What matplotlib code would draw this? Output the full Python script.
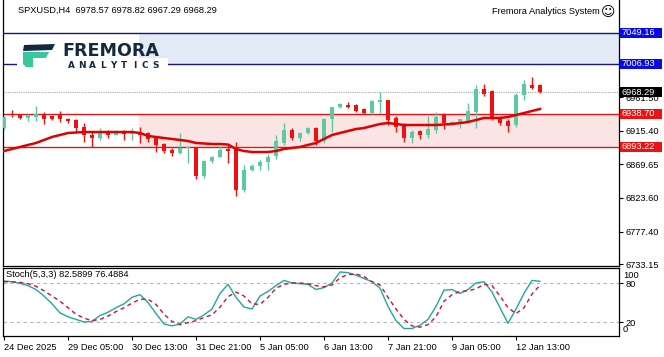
import matplotlib
matplotlib.use("Agg")
from matplotlib import pyplot as plt
from matplotlib.patches import Polygon, Rectangle
from matplotlib.transforms import IdentityTransform, blended_transform_factory

W, H = 664, 357
FONT = "Liberation Sans"
FS = 6.7

TITLE = "SPXUSD,H4  6978.57 6978.82 6967.29 6968.29"
STOCH_TITLE = "Stoch(5,3,3) 82.5899 76.4884"

opens = [6919, 6938.5, 6938, 6933, 6934, 6939, 6935, 6938, 6932, 6930,
         6920, 6909.6, 6905, 6915, 6910, 6914, 6911, 6914, 6912, 6905,
         6897, 6889, 6885, 6892, 6891.5, 6853, 6874, 6880, 6890, 6891.5,
         6834, 6862, 6867, 6873, 6881, 6899, 6916.5, 6905, 6912, 6919,
         6901, 6931, 6948, 6951, 6950, 6945, 6940, 6955, 6957, 6933,
         6923, 6905, 6915, 6910, 6916, 6938, 6925, 6926, 6929, 6941,
         6973, 6970, 6933, 6929, 6923, 6964, 6978.6, 6978.57]
highs = [6936, 6944, 6939, 6938, 6949, 6941, 6936, 6942, 6933, 6931,
         6926, 6913.6, 6919, 6917, 6917, 6916, 6919.5, 6920, 6914, 6907,
         6899, 6892, 6912, 6894, 6893, 6876, 6881, 6894, 6897, 6900,
         6868, 6870, 6875, 6883, 6910, 6926, 6919, 6914, 6921, 6921,
         6933, 6948, 6954, 6955, 6952, 6947, 6958, 6968, 6958, 6935,
         6926, 6916, 6917, 6935, 6941, 6940, 6929, 6932, 6954, 6978,
         6980, 6971, 6935, 6932, 6967, 6985, 6989, 6978.82]
lows = [6917, 6934, 6932, 6929, 6929, 6924, 6930, 6927, 6926, 6914,
        6900, 6893, 6903, 6906, 6909, 6903, 6903, 6899, 6900, 6886,
        6885, 6881, 6884, 6872, 6849, 6851, 6872, 6880, 6871, 6826,
        6832, 6860, 6862, 6862, 6877, 6896, 6903, 6902, 6911, 6896,
        6898, 6914, 6946, 6947, 6941, 6938, 6938, 6940, 6923, 6914,
        6900, 6899, 6904, 6906, 6912, 6918, 6923, 6919, 6927, 6919,
        6963, 6930, 6923, 6914, 6921, 6957, 6973, 6967.29]
closes = [6934, 6937, 6932.7, 6936.5, 6938.6, 6932, 6931, 6931, 6928.5, 6919,
          6909.6, 6905.5, 6915, 6909.6, 6913, 6911.5, 6914, 6909, 6904, 6896,
          6888, 6885, 6891.5, 6893, 6853, 6874, 6879, 6889, 6888, 6834,
          6862, 6867, 6873, 6880, 6901, 6917, 6905, 6912, 6919, 6901,
          6931, 6948, 6952, 6948, 6943, 6940, 6956, 6957, 6930, 6921,
          6905, 6914, 6910, 6918, 6934, 6926, 6928, 6931, 6943, 6973,
          6966, 6933, 6926, 6922, 6964, 6980, 6974, 6968.29]
ma_values = [6887.7, 6890.5, 6893.2, 6896.0, 6898.7, 6902.8, 6906.9, 6909.6, 6912.4, 6913.0,
             6913.7, 6913.7, 6913.7, 6913.7, 6913.7, 6913.7, 6913.7, 6912.4, 6908.3, 6906.9,
             6905.5, 6904.2, 6902.8, 6901.4, 6898.7, 6898.0, 6897.3, 6897.3, 6896.6, 6890.5,
             6887.7, 6886.4, 6886.4, 6886.4, 6887.7, 6890.5, 6891.9, 6893.2, 6896.0, 6898.7,
             6904.2, 6909.6, 6912.4, 6915.1, 6917.8, 6919.2, 6921.9, 6924.7, 6926.0, 6924.7,
             6923.3, 6923.3, 6923.3, 6923.3, 6923.3, 6924.0, 6924.7, 6926.0, 6927.4, 6930.1,
             6932.9, 6932.9, 6932.9, 6934.3, 6937.0, 6939.7, 6942.5, 6945.2]
stoch_k = [83, 82, 79.5, 76, 70, 60, 48, 34, 28, 24,
           20, 21, 30, 35, 42, 48, 58, 62, 50, 33,
           17, 14, 17, 28, 24, 31, 40, 64, 78, 58,
           43, 40, 60, 67, 76, 84, 80, 79, 78, 70,
           73, 80, 97, 96, 92, 87, 82, 72, 44, 22,
           10, 10, 15, 24, 44, 69, 70, 64, 70, 80,
           82, 66, 42, 18, 40, 64, 84, 82.59]
stoch_d = [82, 82, 81, 79, 75, 68, 60, 52, 42, 32,
           26, 22, 24, 29, 36, 42, 49, 55, 55, 47,
           32, 21, 16, 19, 22, 27, 31, 43, 59, 66,
           60, 48, 47, 58, 72, 78, 80, 80, 79, 76,
           74, 77, 88, 93, 94, 90, 82, 77, 58, 40,
           24, 14, 12, 16, 28, 52, 62, 67, 68, 71,
           78, 76, 60, 42, 33, 42, 63, 76.49]

time_ticks = [0, 8, 16, 24, 32, 40, 48, 56, 64]
time_labels = ["24 Dec 2025", "29 Dec 05:00", "30 Dec 13:00", "31 Dec 21:00",
               "5 Jan 05:00", "6 Jan 13:00", "7 Jan 21:00", "9 Jan 05:00",
               "12 Jan 13:00"]
price_ticks = [6733.15, 6777.40, 6823.60, 6869.65, 6915.40, 6961.50]
price_labels = ["6733.15", "6777.40", "6823.60", "6869.65", "6915.40", "6961.50"]

blue_zone = (7006.93, 7049.16)
red_zone = (6893.22, 6938.70)
zone_start = 16.9
current_price = 6968.29

BULL = "#5CC9A0"
BEAR = "#EE1111"
NAVY_LINE = "#14148C"
BLUE_BOX = "#0A0AE6"
RED_LINE = "#E01515"


def fig_xy(px, py):
    """Pixel coordinates (from top-left) to figure fraction."""
    return px / W, 1 - py / H


def draw_candles(ax):
    """Draw the candles and the moving average."""
    bars = range(len(opens))
    for i in bars:
        o, h, l, c = opens[i], highs[i], lows[i], closes[i]
        color = BULL if c >= o else BEAR
        ax.vlines(i, l, h, color=color, linewidth=1, zorder=3)
        body = max(abs(c - o), 1.3)
        ax.bar(i, body, bottom=min(o, c), width=0.62, color=color,
               linewidth=0, zorder=4)
    ax.plot(list(bars), ma_values, color="#E00000", linewidth=1.8, zorder=5)


def draw_levels(ax, fig):
    """Zones, horizontal levels and their price boxes."""
    x_end = ax.get_xlim()[1]
    ax.fill_between([zone_start, x_end], *blue_zone, color="#E2EAF6",
                    linewidth=0, zorder=1)
    ax.fill_between([zone_start, x_end], *red_zone, color="#FBE4E4",
                    linewidth=0, zorder=1)
    for level in blue_zone:
        ax.axhline(level, color=NAVY_LINE, linewidth=1, zorder=2)
    for level in red_zone:
        ax.axhline(level, color=RED_LINE, linewidth=1, zorder=2)
    ax.axhline(current_price, color="#A8A8A8", linewidth=0.8,
               linestyle=(0, (1, 1)), zorder=2)

    boxes = [(blue_zone[1], BLUE_BOX), (blue_zone[0], BLUE_BOX),
             (current_price, "#000000"), (red_zone[1], BEAR),
             (red_zone[0], BEAR)]
    fig.canvas.draw()
    for level, color in boxes:
        y_disp = ax.transData.transform((0, level))[1]
        fig.patches.append(Rectangle((620, y_disp - 5), 42, 10,
                                     transform=IdentityTransform(),
                                     facecolor=color, edgecolor="none",
                                     zorder=2))
        fig.text(622 / W, y_disp / H, f"{level:.2f}", color="white",
                 fontsize=FS, family=FONT, va="center", ha="left", zorder=3)


def draw_logo(fig):
    """Brand logo in the top-left corner."""
    fig.patches.append(Rectangle(fig_xy(17, 72), 151 / W, 14 / H,
                                 transform=fig.transFigure, facecolor="white",
                                 edgecolor="none", zorder=1))
    top_bar = [fig_xy(24, 45), fig_xy(55, 44), fig_xy(52, 50), fig_xy(23, 51)]
    stem = [fig_xy(23, 52), fig_xy(49, 52), fig_xy(46, 58), fig_xy(33, 58),
            fig_xy(33, 67), fig_xy(26, 67), fig_xy(23, 64)]
    fig.patches.append(Polygon(top_bar, closed=True, transform=fig.transFigure,
                               facecolor="#13293D", edgecolor="none", zorder=2))
    fig.patches.append(Polygon(stem, closed=True, transform=fig.transFigure,
                               facecolor="#36C79D", edgecolor="none", zorder=2))
    fig.text(*fig_xy(62, 51.5), "FREMORA", fontsize=12.6, fontweight="bold",
             family="DejaVu Sans", color="#13293D", va="center", ha="left",
             zorder=3)
    for k, letter in enumerate("ANALYTICS"):
        fig.text(*fig_xy(71 + k * 10.6, 66), letter, fontsize=6.4,
                 fontweight="bold", family="DejaVu Sans", color="#13293D",
                 va="center", ha="center", zorder=3)


def draw_stoch(ax):
    """Stochastic oscillator panel."""
    bars = list(range(len(stoch_k)))
    for level in (20, 80):
        ax.axhline(level, color="#B4B4B4", linewidth=0.8,
                   linestyle=(0, (3, 3)))
    ax.plot(bars, stoch_k, color="#20A89E", linewidth=1)
    ax.plot(bars, stoch_d, color="#D0103A", linewidth=1,
            linestyle=(0, (3, 2.5)))
    ax.set_ylim(-1.54, 103.1)
    ax.set_yticks([20, 80], ["20", "80"])
    trans = blended_transform_factory(ax.transAxes, ax.transData)
    ax.text(1.007, 92, "100", transform=trans, fontsize=FS, family=FONT,
            va="center", ha="left")
    ax.text(1.007, 9, "0", transform=trans, fontsize=FS, family=FONT,
            va="center", ha="left")
    ax.text(0.006, 93, STOCH_TITLE, transform=trans, fontsize=FS,
            family=FONT, va="center", ha="left")
    ax.set_xticks(time_ticks)
    ax.set_xticklabels(time_labels, ha="left", fontsize=FS, family=FONT)


def style_axis(ax):
    """MT4 like frame and right hand ticks."""
    ax.yaxis.tick_right()
    ax.tick_params(axis="y", direction="out", length=3, width=0.8, pad=2,
                   labelsize=FS)
    ax.tick_params(axis="x", direction="out", length=3, width=0.8, pad=2,
                   labelsize=FS)
    for label in ax.get_yticklabels():
        label.set_family(FONT)
    for spine in ax.spines.values():
        spine.set_linewidth(0.9)
        spine.set_color("black")


def main():
    """Build the chart and save it."""
    fig = plt.figure(figsize=(W / 100, H / 100), dpi=100)
    fig.patch.set_facecolor("white")
    x_min = (2.5 - 4) / 8
    x_max = x_min + 616 / 8

    ax = fig.add_axes([2.5 / W, 1 - 265.5 / H, 616 / W, 265.5 / H])
    ax.set_xlim(x_min, x_max)
    ax.set_ylim(6731.1, 7094.3)
    ax.set_xticks([])
    ax.set_yticks(price_ticks, price_labels)
    style_axis(ax)
    ax.spines["top"].set_visible(False)
    draw_candles(ax)

    ax2 = fig.add_axes([2.5 / W, 1 - 336 / H, 616 / W, 68 / H])
    ax2.set_xlim(x_min, x_max)
    draw_stoch(ax2)
    style_axis(ax2)

    draw_levels(ax, fig)
    draw_logo(fig)

    fig.text(*fig_xy(18, 10), TITLE, fontsize=FS, family=FONT,
             va="center", ha="left")
    fig.text(*fig_xy(600, 12), "Fremora Analytics System", fontsize=FS,
             family=FONT, va="center", ha="right")
    fig.text(*fig_xy(608, 12), "\u263a", fontsize=10, family="DejaVu Sans",
             va="center", ha="center")

    fig.savefig("out.png", dpi=100)


if __name__ == "__main__":
    main()
